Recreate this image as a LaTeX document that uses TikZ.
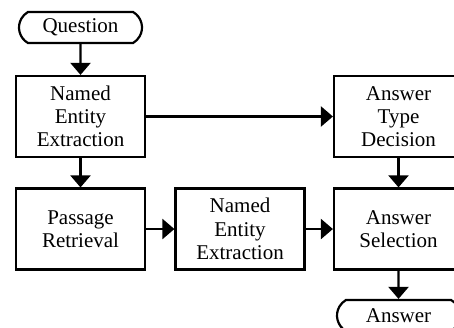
\documentclass[tikz,border=0pt]{standalone}
\usepackage{fontspec}
\setmainfont{Liberation Serif}
\usetikzlibrary{shapes.misc,arrows.meta}

\begin{document}
\begin{tikzpicture}[%
      x=0.5pt, y=-0.5pt,
      block/.style={draw, line width=1.1pt, minimum width=64.5pt, minimum height=40.5pt,
        inner sep=1pt, align=center, font=\fontsize{10.5}{11.6}\selectfont},
      term/.style={draw, line width=1.1pt, rounded rectangle, rounded rectangle arc length=120,
        minimum width=63.5pt, minimum height=15.5pt, inner sep=1pt,
        font=\fontsize{10.5}{11.6}\selectfont},
      flow/.style={line width=1.1pt, -{Triangle[length=6pt,width=10pt]}},
      ]
      \useasboundingbox (0,0) rectangle (454,327);

      \node[term]  (question) at (80.5,27.5)  {Question};
      \node[block] (neeone)   at (80.5,116.5) {Named\\Entity\\Extraction};
      \node[block] (anstype)  at (398.5,116.5) {Answer\\Type\\Decision};
      \node[block] (passage)  at (80.5,229)   {Passage\\Retrieval};
      \node[block] (neetwo)   at (240,229)    {Named\\Entity\\Extraction};
      \node[block] (anssel)   at (398.5,229)  {Answer\\Selection};
      \node[term]  (answer)   at (398.5,315.5) {Answer};

      \draw[flow] (question) -- (neeone);
      \draw[flow] (neeone) -- (anstype);
      \draw[flow] (neeone) -- (passage);
      \draw[flow] (passage) -- (neetwo);
      \draw[flow] (neetwo) -- (anssel);
      \draw[flow] (anstype) -- (anssel);
      \draw[flow] (anssel) -- (answer);
\end{tikzpicture}
\end{document}
